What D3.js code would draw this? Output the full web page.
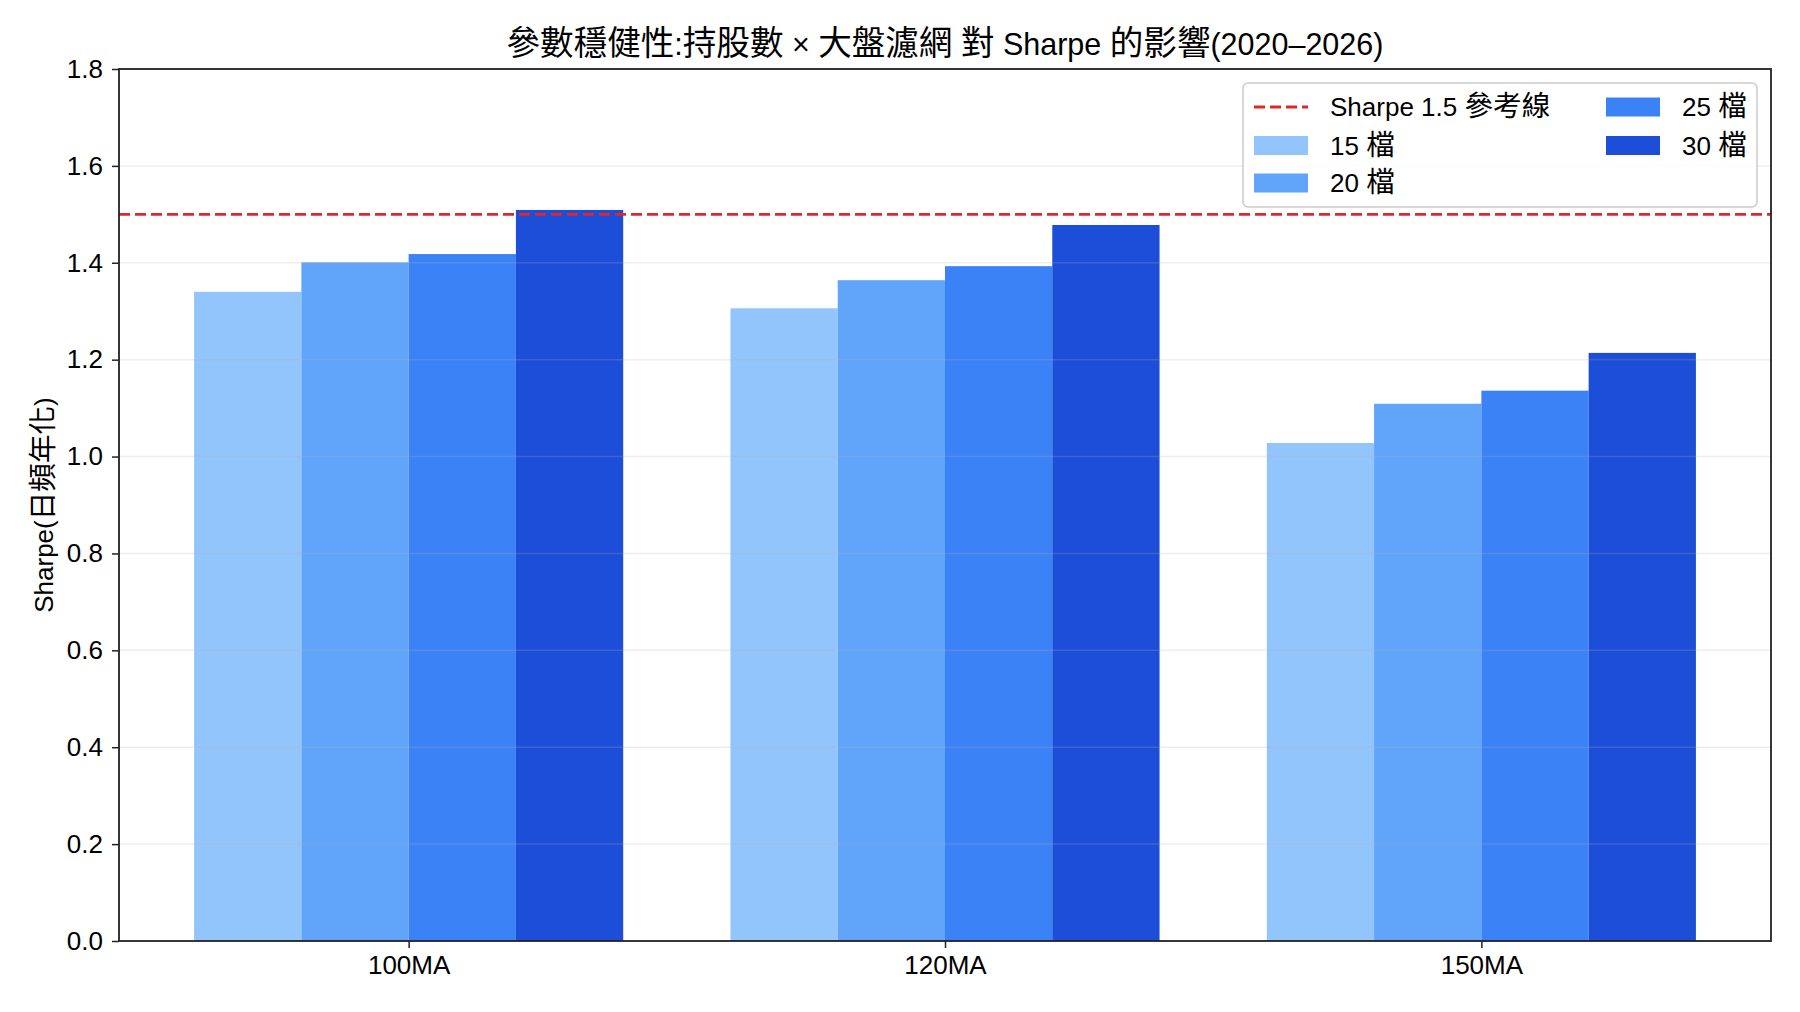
<!DOCTYPE html>
<html>
<head>
<meta charset="utf-8">
<script src="https://cdn.jsdelivr.net/npm/d3@7"></script>
<style>
  body { margin: 0; background: #fff; }
  text { font-family: "Liberation Sans", Arial, "Noto Sans CJK TC", sans-serif; fill: #000; }
</style>
</head>
<body>
<svg id="chart" width="1800" height="1012"></svg>
<script>
// 資料
var categories = ["100MA", "120MA", "150MA"];
var seriesNames = ["15 檔", "20 檔", "25 檔", "30 檔"];
var seriesColors = ["#93c5fd", "#60a5fa", "#3b82f6", "#1d4ed8"];
var sharpe15 = [1.340, 1.306, 1.028];
var sharpe20 = [1.401, 1.364, 1.109];
var sharpe25 = [1.418, 1.393, 1.136];
var sharpe30 = [1.509, 1.478, 1.214];
var refValue = 1.5;
var yTicks = [0, 0.2, 0.4, 0.6, 0.8, 1.0, 1.2, 1.4, 1.6, 1.8];

var allSeries = [sharpe15, sharpe20, sharpe25, sharpe30];

var margin = { left: 119, right: 1771, top: 69, bottom: 941 };
var svg = d3.select("#chart");

var x = d3.scaleLinear().domain([-0.54, 2.54]).range([margin.left, margin.right]);
var y = d3.scaleLinear().domain([0, 1.8]).range([margin.bottom, margin.top]);
var barW = 0.2;

// 中文字放大一點(參考圖的中文字型較寬)
function mixedText(sel, str, size) {
    sel.attr("font-size", size);
    var parts = str.match(/[\u3000-\u9fff\uff00-\uffef]+|[^\u3000-\u9fff\uff00-\uffef]+/g);
    parts.forEach(function(p) {
        var t = sel.append("tspan").text(p);
        if (/[\u3000-\u9fff]/.test(p)) {
            t.attr("font-size", size * 1.1);
        }
    });
}

// 長條
for (var s = 0; s < allSeries.length; s++) {
    var offset = (s - 1.5) * barW;
    svg.append("g")
        .selectAll("rect")
        .data(allSeries[s])
        .enter()
        .append("rect")
        .attr("x", function(d, i) { return x(i + offset - barW / 2); })
        .attr("width", x(barW) - x(0))
        .attr("y", function(d) { return y(d); })
        .attr("height", function(d) { return y(0) - y(d); })
        .attr("fill", seriesColors[s]);
}

// 格線(畫在長條上方)
svg.append("g")
    .selectAll("line")
    .data(yTicks)
    .enter()
    .append("line")
    .attr("x1", margin.left)
    .attr("x2", margin.right)
    .attr("y1", function(d) { return y(d); })
    .attr("y2", function(d) { return y(d); })
    .attr("stroke", "#b0b0b0")
    .attr("stroke-opacity", 0.22)
    .attr("stroke-width", 1.5);

// 參考線
svg.append("line")
    .attr("x1", margin.left)
    .attr("x2", margin.right)
    .attr("y1", y(refValue))
    .attr("y2", y(refValue))
    .attr("stroke", "#e02626")
    .attr("stroke-width", 2.8)
    .attr("stroke-dasharray", "11,5");

// 座標軸
var xAxis = d3.axisBottom(x)
    .tickValues([0, 1, 2])
    .tickFormat(function(d) { return categories[d]; })
    .tickSize(7)
    .tickPadding(8)
    .tickSizeOuter(0);
var yAxis = d3.axisLeft(y)
    .tickValues(yTicks)
    .tickFormat(d3.format(".1f"))
    .tickSize(7)
    .tickPadding(9)
    .tickSizeOuter(0);

var gx = svg.append("g").attr("transform", "translate(0," + margin.bottom + ")").call(xAxis);
var gy = svg.append("g").attr("transform", "translate(" + margin.left + ",0)").call(yAxis);
[gx, gy].forEach(function(g) {
    g.select(".domain").remove();
    g.selectAll(".tick line").attr("stroke", "#222").attr("stroke-width", 1.5);
    g.selectAll(".tick text").attr("font-size", 26).style("fill", "#000");
});
gx.selectAll(".tick text").attr("dy", "0.71em");

// 外框
svg.append("rect")
    .attr("x", margin.left)
    .attr("y", margin.top)
    .attr("width", margin.right - margin.left)
    .attr("height", margin.bottom - margin.top)
    .attr("fill", "none")
    .attr("stroke", "#222")
    .attr("stroke-width", 1.8);

// 標題
var title = svg.append("text")
    .attr("x", (margin.left + margin.right) / 2)
    .attr("y", 54.5)
    .attr("text-anchor", "middle");
mixedText(title, "參數穩健性:持股數 × 大盤濾網 對 Sharpe 的影響(2020–2026)", 30.5);

// Y 軸標籤
var ylab = svg.append("text")
    .attr("transform", "translate(53," + ((margin.top + margin.bottom) / 2) + ") rotate(-90)")
    .attr("text-anchor", "middle");
mixedText(ylab, "Sharpe(日頻年化)", 26);

// 圖例
var legend = svg.append("g");
legend.append("rect")
    .attr("x", 1243)
    .attr("y", 83)
    .attr("width", 1757 - 1243)
    .attr("height", 207 - 83)
    .attr("rx", 5)
    .attr("fill", "#fff")
    .attr("fill-opacity", 0.8)
    .attr("stroke", "#cccccc")
    .attr("stroke-width", 1.5);

var legendItems = [
    { label: "Sharpe 1.5 參考線", type: "line", color: "#e02626", col: 0, row: 0 },
    { label: seriesNames[0], type: "rect", color: seriesColors[0], col: 0, row: 1 },
    { label: seriesNames[1], type: "rect", color: seriesColors[1], col: 0, row: 2 },
    { label: seriesNames[2], type: "rect", color: seriesColors[2], col: 1, row: 0 },
    { label: seriesNames[3], type: "rect", color: seriesColors[3], col: 1, row: 1 }
];
var colX = [1254, 1606];
var rowY = [107, 145.5, 183];

legendItems.forEach(function(it) {
    var lx = colX[it.col];
    var ly = rowY[it.row];
    if (it.type == "line") {
        legend.append("line")
            .attr("x1", lx)
            .attr("x2", lx + 54)
            .attr("y1", ly)
            .attr("y2", ly)
            .attr("stroke", it.color)
            .attr("stroke-width", 2.8)
            .attr("stroke-dasharray", "11,5");
    } else {
        legend.append("rect")
            .attr("x", lx)
            .attr("y", ly - 9.5)
            .attr("width", 54)
            .attr("height", 19)
            .attr("fill", it.color);
    }
    var t = legend.append("text")
        .attr("x", lx + 76)
        .attr("y", ly + 9.4);
    mixedText(t, it.label, 26);
});
</script>
</body>
</html>
